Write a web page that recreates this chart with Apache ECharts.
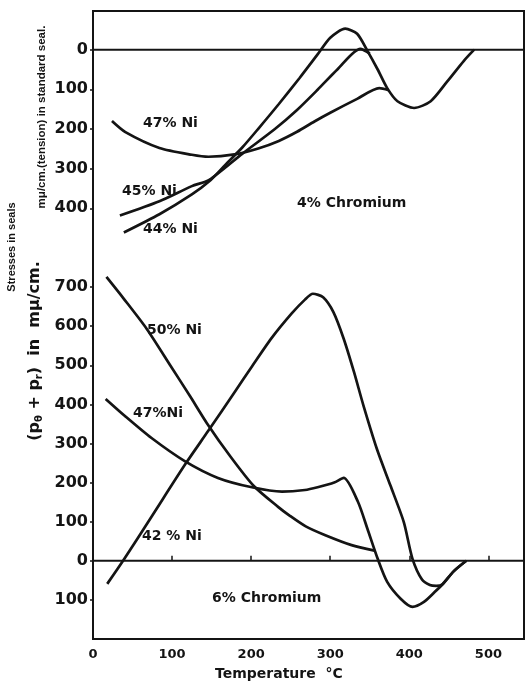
<!DOCTYPE html>
<html><head><meta charset="utf-8">
<script src="https://cdn.jsdelivr.net/npm/echarts@6/dist/echarts.min.js"></script>
<style>html,body{margin:0;padding:0;background:#fff}#c{width:527px;height:682px}</style>
</head><body><div id="c"></div>
<script>
// Tick labels
const xTicks = [0, 100, 200, 300, 400, 500];
const topTicks = [0, 100, 200, 300, 400];
const bottomTicks = [700, 600, 500, 400, 300, 200, 100, 0, -100];

// 4% Chromium panel (positive = tension, plotted downward)
const temp44 = [39, 84, 125, 147, 167, 189, 210, 235, 261, 284, 300, 319, 334, 347, 360, 372, 385, 406, 427, 448, 469, 482];
const stress44 = [461, 415, 365, 332, 291, 246, 197, 137, 72, 12, -30, -53, -40, 3, 50, 97, 130, 147, 130, 80, 28, 0];
const temp45 = [34, 84, 125, 147, 189, 230, 258, 284, 309, 338, 350];
const stress45 = [418, 382, 344, 328, 262, 200, 152, 101, 50, -2, 10];
const temp47a = [24, 41, 84, 125, 146, 179, 209, 235, 258, 280, 300, 334, 362, 374];
const stress47a = [180, 208, 248, 265, 270, 264, 249, 230, 207, 181, 159, 124, 97, 102];

// 6% Chromium panel
const temp50 = [17, 39, 68, 98, 123, 144, 174, 203, 234, 249, 269, 293, 327, 356];
const stress50 = [726, 670, 593, 499, 420, 352, 266, 192, 138, 115, 88, 66, 40, 26];
const temp47b = [16, 40, 74, 116, 158, 201, 239, 268, 284, 305, 317, 335, 347, 360, 372, 389, 404, 418, 432, 442, 456, 472];
const stress47b = [414, 371, 314, 255, 212, 188, 177, 181, 188, 200, 212, 151, 82, 5, -54, -97, -118, -106, -80, -60, -27, 0];
const temp42 = [18, 38, 75, 117, 146, 179, 201, 226, 251, 268, 278, 291, 304, 317, 330, 342, 359, 376, 393, 404, 416, 426, 434, 442, 456, 472];
const stress42 = [-59, 0, 116, 248, 333, 431, 497, 570, 632, 668, 683, 674, 636, 568, 483, 397, 286, 193, 99, 5, -48, -62, -64, -60, -27, 0];

const zip = (a, b) => a.map((v, i) => [v, b[i]]);
const ink = '#141414';
const curve = (name, t, s, g) => ({
  name, type: 'line', xAxisIndex: g, yAxisIndex: g, data: zip(t, s),
  symbol: 'none', smooth: 0.25,
  lineStyle: { color: ink, width: 2.7 }, silent: true
});
const zeroLine = (g) => ({
  type: 'line', xAxisIndex: g, yAxisIndex: g, data: [[0, 0], [545, 0]],
  symbol: 'none', lineStyle: { color: ink, width: 2 }, silent: true
});

const font = 'DejaVu Sans';
const lbl = (text, x, y, size) => ({
  type: 'text', left: x, top: y - size * 0.6,
  style: { text, font: 'bold ' + size + 'px "' + font + '"', fill: ink }
});
const vtxt = (text, x, y, size, fam, rich) => ({
  type: 'text', x, y, rotation: Math.PI / 2,
  style: { text, fontFamily: fam, fontWeight: 'bold', fontSize: size, fill: ink,
    align: 'center', verticalAlign: 'middle', rich }
});

const chart = echarts.init(document.getElementById('c'), null, { renderer: 'canvas' });
chart.setOption({
  animation: false,
  backgroundColor: '#fff',
  grid: [
    { left: 93, top: 10, width: 431, height: 238 },
    { left: 93, top: 248, width: 431, height: 391 },
    { left: 93, top: 11, width: 431, height: 628, show: true, borderColor: ink, borderWidth: 2, backgroundColor: 'transparent' }
  ],
  xAxis: [
    { gridIndex: 0, type: 'value', min: 0, max: 545, show: false },
    { gridIndex: 1, type: 'value', min: 0, max: 545, position: 'bottom',
      axisLine: { show: false },
      axisTick: { show: true, inside: true, length: 5, customValues: xTicks, lineStyle: { color: ink, width: 1.5 } },
      axisLabel: { customValues: xTicks, fontFamily: font, fontWeight: 'bold', fontSize: 13, color: ink, margin: 9 },
      splitLine: { show: false } },
    { gridIndex: 2, type: 'value', min: 0, max: 1, show: false }
  ],
  yAxis: [
    { gridIndex: 0, type: 'value', inverse: true, min: -100, max: 500,
      axisLine: { show: false },
      axisTick: { show: true, length: 3, customValues: topTicks, lineStyle: { color: ink, width: 1.5 } },
      axisLabel: { customValues: topTicks, fontFamily: font, fontWeight: 'bold', fontSize: 16, color: ink, margin: 5 },
      splitLine: { show: false } },
    { gridIndex: 1, type: 'value', min: -200, max: 800,
      axisLine: { show: false },
      axisTick: { show: true, length: 3, customValues: bottomTicks, lineStyle: { color: ink, width: 1.5 } },
      axisLabel: { customValues: bottomTicks, formatter: v => String(Math.abs(v)), fontFamily: font, fontWeight: 'bold', fontSize: 16, color: ink, margin: 5 },
      splitLine: { show: false } },
    { gridIndex: 2, type: 'value', min: 0, max: 1, show: false }
  ],
  series: [
    zeroLine(0), zeroLine(1),
    curve('44% Ni', temp44, stress44, 0),
    curve('45% Ni', temp45, stress45, 0),
    curve('47% Ni (4% Cr)', temp47a, stress47a, 0),
    curve('50% Ni', temp50, stress50, 1),
    curve('47% Ni (6% Cr)', temp47b, stress47b, 1),
    curve('42% Ni', temp42, stress42, 1)
  ],
  graphic: [
    lbl('47% Ni', 143, 125, 14),
    lbl('45% Ni', 122, 193, 14),
    lbl('44% Ni', 143, 231, 14),
    lbl('4% Chromium', 297, 205, 14),
    lbl('50% Ni', 147, 332, 14),
    lbl('47%Ni', 133, 415, 14),
    lbl('42 % Ni', 142, 538, 14),
    lbl('6% Chromium', 212, 600, 14),
    { type: 'text', left: 215, top: 667,
      style: { text: 'Temperature  °C', font: 'bold 14px "' + font + '"', fill: ink } },
    vtxt('mμ/cm.(tension) in standard seal.', 42, 117, 11.5, 'Liberation Sans'),
    vtxt('Stresses in seals', 12, 247, 11, 'Liberation Sans'),
    vtxt('{a|(p}{s|θ}{a| + p}{s|r}{a|)  in  mμ/cm.}', 35, 351, 15, font,
      { a: { fontFamily: font, fontWeight: 'bold', fontSize: 16, fill: ink },
        s: { fontFamily: font, fontWeight: 'bold', fontSize: 10, fill: ink, verticalAlign: 'bottom', padding: [8, 0, 0, 0] } })
  ]
});
</script>
</body></html>
